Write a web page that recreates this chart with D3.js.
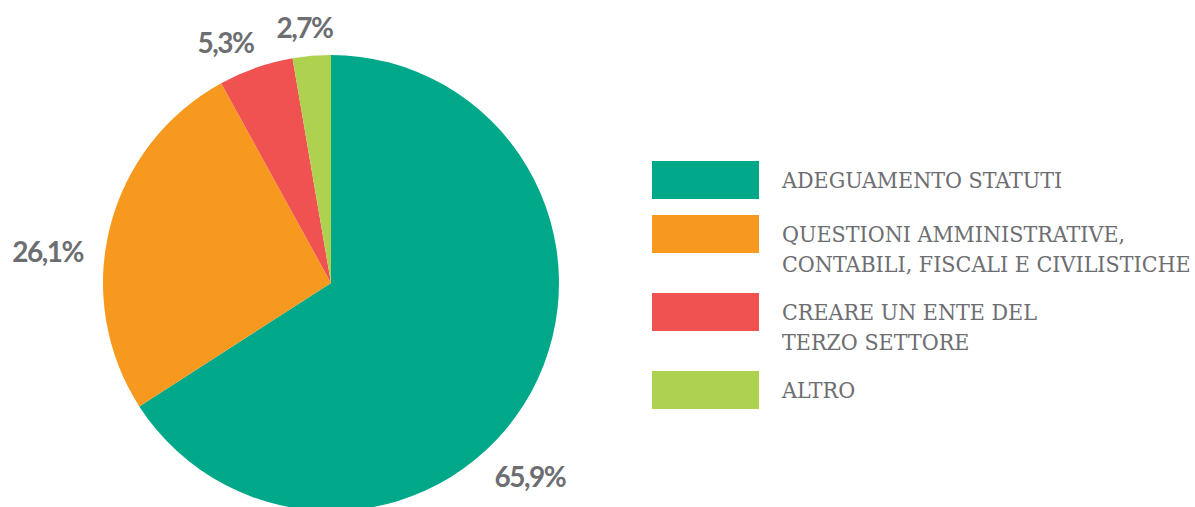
<!DOCTYPE html>
<html>
<head>
<meta charset="utf-8">
<script src="https://cdn.jsdelivr.net/npm/d3@7"></script>
<style>
  html, body { margin: 0; padding: 0; background: #ffffff; }
  svg { display: block; }
</style>
</head>
<body>
<svg id="chart" width="1195" height="507"></svg>
<script>
// Categories (legend lines) and their shares in percent
const categories = [
  ["ADEGUAMENTO STATUTI"],
  ["QUESTIONI AMMINISTRATIVE,", "CONTABILI, FISCALI E CIVILISTICHE"],
  ["CREARE UN ENTE DEL", "TERZO SETTORE"],
  ["ALTRO"]
];
const values = [65.9, 26.1, 5.3, 2.7];
const valueLabels = ["65,9%", "26,1%", "5,3%", "2,7%"];
const colors = ["#00a88a", "#f7991e", "#f05252", "#aed150"];

const svg = d3.select("#chart");
const cx = 331, cy = 283, R = 228;
const textGrey = "#6d6e71";

// Pie, clockwise from 12 o'clock in data order
const pie = d3.pie().sort(null).value(d => d);
const arcs = pie(values);
const arc = d3.arc().innerRadius(0).outerRadius(R);

const g = svg.append("g").attr("transform", `translate(${cx},${cy})`);
g.selectAll("path.slice")
  .data(arcs)
  .join("path")
  .attr("class", "slice")
  .attr("d", arc)
  .attr("fill", (d, i) => colors[i]);

// Percentage labels placed around the pie (angle shift in degrees, radius)
const labelPlacement = [
  { shift: 15.7, r: 278 },
  { shift: -8.0, r: 285 },
  { shift: -4.5, r: 262 },
  { shift: -1.1, r: 256 }
];
g.selectAll("text.pct")
  .data(arcs)
  .join("text")
  .attr("class", "pct")
  .each(function (d, i) {
    const p = labelPlacement[i];
    const a = (d.startAngle + d.endAngle) / 2 + p.shift * Math.PI / 180;
    d3.select(this)
      .attr("x", Math.sin(a) * p.r)
      .attr("y", -Math.cos(a) * p.r);
  })
  .attr("dy", "0.36em")
  .attr("text-anchor", "middle")
  .attr("font-family", "Lato, sans-serif")
  .attr("font-weight", 700)
  .attr("font-size", 28)
  .attr("letter-spacing", "-1.5px")
  .attr("fill", textGrey)
  .text((d, i) => valueLabels[i]);

// Legend
const legendX = 652, swW = 107, swH = 38;
const legendTops = d3.scaleOrdinal()
  .domain(d3.range(categories.length))
  .range([161, 215, 293, 371]);
const lineGap = 30;

const items = svg.selectAll("g.legend")
  .data(categories)
  .join("g")
  .attr("class", "legend")
  .attr("transform", (d, i) => `translate(${legendX},${legendTops(i)})`);

items.append("rect")
  .attr("width", swW)
  .attr("height", swH)
  .attr("fill", (d, i) => colors[i]);

items.append("text")
  .attr("x", 130)
  .attr("y", swH / 2)
  .attr("font-family", "'DejaVu Serif', serif")
  .attr("font-stretch", "condensed")
  .attr("font-size", 23)
  .attr("fill", textGrey)
  .selectAll("tspan")
  .data(d => d)
  .join("tspan")
  .attr("x", 130)
  .attr("dy", (d, j) => j === 0 ? "0.36em" : lineGap)
  .text(d => d);
</script>
</body>
</html>
